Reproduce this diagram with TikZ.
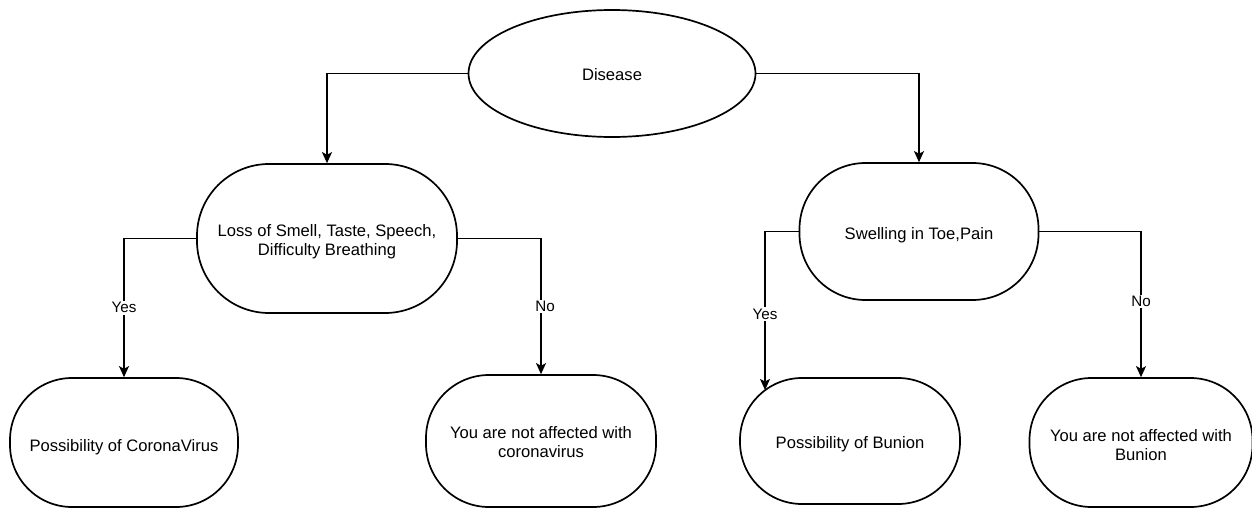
\documentclass[tikz,border=0pt]{standalone}
\usepackage{fontspec}
\setmainfont{Liberation Sans}
\usetikzlibrary{shapes.geometric,arrows.meta}
\newcommand\lowr[1]{\rule{0pt}{#1}}
\tikzset{
  shapeline/.style={draw=black, line width=1.7pt, fill=white},
  pill/.style={shapeline, rectangle, inner sep=0pt, align=center,
    font=\fontsize{16.6}{19}\selectfont},
  oval/.style={shapeline, ellipse, inner sep=0pt, align=center,
    font=\fontsize{16.6}{19}\selectfont},
  conn/.style={draw=black, line width=1.1pt, -{Stealth[length=11pt,width=10pt,inset=2.5pt]}},
  lbl/.style={fill=white, inner sep=1.5pt, font=\fontsize{15.2}{17}\selectfont}
}
\begin{document}
\begin{tikzpicture}[x=1pt,y=-1pt]
\useasboundingbox (0,0) rectangle (1252,509);

\node[oval, minimum width=287pt, minimum height=127pt] (dis) at (612,73.5) {\lowr{14.2pt}Disease};

\node[pill, rounded corners=72pt, minimum width=260pt, minimum height=149pt] (loss) at (327,238.5)
  {\lowr{19.2pt}Loss of Smell, Taste, Speech,\\Difficulty Breathing};
\node[pill, rounded corners=66pt, minimum width=239pt, minimum height=137pt] (swell) at (919,231.5)
  {\lowr{20.2pt}Swelling in Toe,Pain};

\node[pill, rounded corners=62pt, minimum width=228pt, minimum height=129pt] (pc) at (124,442.5)
  {\lowr{22pt}Possibility of CoronaVirus};
\node[pill, rounded corners=63pt, minimum width=230pt, minimum height=132pt] (nc) at (541,441)
  {\lowr{14pt}You are not affected with\\coronavirus};
\node[pill, rounded corners=62pt, minimum width=220pt, minimum height=126pt] (pb) at (850,441)
  {\lowr{18pt}Possibility of Bunion};
\node[pill, rounded corners=62pt, minimum width=223pt, minimum height=129pt] (nb) at (1141,442.5)
  {\lowr{17pt}You are not affected with\\Bunion};

\coordinate (pbtop) at (765,390);

\draw[conn] (dis.west) -| (loss.north);
\draw[conn] (dis.east) -| (swell.north);
\draw[conn] (loss.west) -| node[lbl, pos=0.75] (yes1) {Yes} (pc.north);
\draw[conn] (loss.east) -| node[lbl, pos=0.75, xshift=4pt] (no1) {No} (nc.north);
\draw[conn] (swell.west) -| node[lbl, pos=0.76] (yes2) {Yes} (pbtop);
\draw[conn] (swell.east) -| node[lbl, pos=0.74] (no2) {No} (nb.north);
\end{tikzpicture}
\end{document}
